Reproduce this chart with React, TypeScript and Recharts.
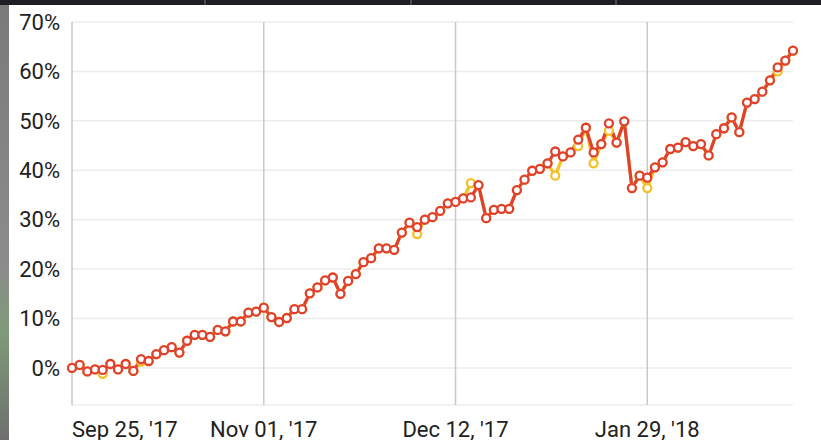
import React from "react";
import { CartesianGrid, Line, LineChart, ReferenceLine, XAxis, YAxis } from "recharts";

// one point per sample, x axis is just the index
const mainSeries = [
  0, 0.6, -0.7, -0.3, -0.4, 0.8, -0.3, 0.8, -0.6, 1.8,
  1.4, 2.8, 3.6, 4.2, 3.1, 5.5, 6.7, 6.7, 6.3, 7.7,
  7.4, 9.4, 9.4, 11.2, 11.4, 12.2, 10.3, 9.3, 10.1, 11.9,
  11.9, 15.1, 16.3, 17.7, 18.3, 15.0, 17.6, 19.0, 21.4, 22.2,
  24.2, 24.2, 23.9, 27.4, 29.4, 28.5, 30.0, 30.5, 31.8, 33.3,
  33.6, 34.3, 34.5, 37.0, 30.3, 32.0, 32.2, 32.2, 36.0, 38.1,
  39.9, 40.3, 41.4, 43.8, 42.8, 43.6, 46.2, 48.6, 43.6, 45.3,
  49.5, 45.6, 49.9, 36.4, 38.9, 38.5, 40.6, 41.6, 44.3, 44.6,
  45.7, 44.9, 45.3, 43.0, 47.3, 48.5, 50.7, 47.7, 53.7, 54.4,
  55.9, 58.2, 60.8, 62.2, 64.2,
];

const altSeries = [
  0, 0.6, -0.7, -0.3, -1.2, 0.8, -0.3, 0.8, -0.6, 1.3,
  1.4, 2.8, 3.6, 4.2, 3.1, 5.5, 6.7, 6.7, 6.3, 7.7,
  7.4, 9.4, 9.4, 11.2, 11.4, 12.2, 10.3, 9.3, 10.1, 11.9,
  11.9, 15.1, 16.3, 17.7, 18.3, 15.0, 17.6, 19.0, 21.4, 22.2,
  24.2, 24.2, 23.9, 27.4, 29.4, 27.1, 30.0, 30.5, 31.8, 33.3,
  33.6, 34.3, 37.4, 37.0, 30.3, 32.0, 32.2, 32.2, 36.0, 38.1,
  39.9, 40.3, 41.4, 38.9, 42.8, 43.6, 44.9, 48.6, 41.4, 45.3,
  48.0, 45.6, 49.9, 36.4, 38.9, 36.4, 40.6, 41.6, 44.3, 44.6,
  45.7, 44.9, 45.3, 43.0, 47.3, 48.5, 50.7, 47.7, 53.7, 54.4,
  55.9, 58.2, 60.0, 62.2, 64.2,
];

const dateTicks = [0, 25, 50, 75];
const dateLabels = ["Sep 25, '17", "Nov 01, '17", "Dec 12, '17", "Jan 29, '18"];
const percentTicks = [0, 10, 20, 30, 40, 50, 60, 70];

const data = mainSeries.map((v, i) => ({ i, main: v, alt: altSeries[i] }));

const RED = "#e0402e";
const YELLOW = "#f5bf26";
const FONT = "Roboto, sans-serif";

function DateTick(props: any) {
  const { x, y, payload, index } = props;
  const label = dateLabels[dateTicks.indexOf(payload.value)] ?? "";
  return (
    <text
      x={x}
      y={y}
      dy="0.71em"
      textAnchor={index === 0 ? "start" : "middle"}
      fill="#212121"
      fontSize={22}
      fontFamily={FONT}
    >
      {label}
    </text>
  );
}

export default function App() {
  return (
    <div
      style={{
        position: "fixed",
        left: 0,
        top: 0,
        width: 821,
        height: 440,
        background: "#fff",
        overflow: "hidden",
      }}
    >
      {/* status strip at the top of the screenshot */}
      <div style={{ position: "absolute", left: 0, top: 0, width: 821, height: 5, display: "flex", background: "#1e1f24" }}>
        {[0, 1, 2, 3].map((k) => (
          <div key={k} style={{ flex: 1, borderRight: k < 3 ? "2px solid #4a4a4a" : "none" }} />
        ))}
      </div>
      {/* blurred edge on the left */}
      <div
        style={{
          position: "absolute",
          left: 0,
          top: 5,
          width: 9,
          height: 435,
          background: "linear-gradient(#7a7a7a, #8c8c8c 60%, #7f9a78 75%, #6f6f6f)",
        }}
      />
      <div style={{ position: "absolute", left: 0, top: 0 }}>
        <LineChart width={821} height={440} data={data} margin={{ top: 22, right: 28, bottom: 0, left: 0 }}>
          <CartesianGrid vertical={false} stroke="#ececec" strokeWidth={1.5} />
          {dateTicks.map((t) => (
            <ReferenceLine key={t} x={t} stroke="#c9c9c9" strokeWidth={1.5} />
          ))}
          <XAxis
            dataKey="i"
            type="number"
            domain={[0, 94]}
            ticks={dateTicks}
            height={35}
            axisLine={false}
            tickLine={false}
            tickSize={0}
            tickMargin={16}
            tick={<DateTick />}
            interval={0}
          />
          <YAxis
            type="number"
            domain={[-7.5, 70]}
            ticks={percentTicks}
            width={72}
            axisLine={false}
            tickLine={false}
            tickSize={0}
            tickMargin={12}
            tickFormatter={(v: number) => `${v}%`}
            tick={{ fontSize: 22, fill: "#212121", fontFamily: FONT }}
            interval={0}
          />
          <Line
            dataKey="alt"
            stroke={YELLOW}
            strokeWidth={3.2}
            dot={{ r: 4, fill: "#fff", stroke: YELLOW, strokeWidth: 2.3 }}
            isAnimationActive={false}
          />
          <Line
            dataKey="main"
            stroke={RED}
            strokeWidth={3.2}
            dot={{ r: 4, fill: "#fff", stroke: RED, strokeWidth: 2.3 }}
            isAnimationActive={false}
          />
        </LineChart>
      </div>
    </div>
  );
}
